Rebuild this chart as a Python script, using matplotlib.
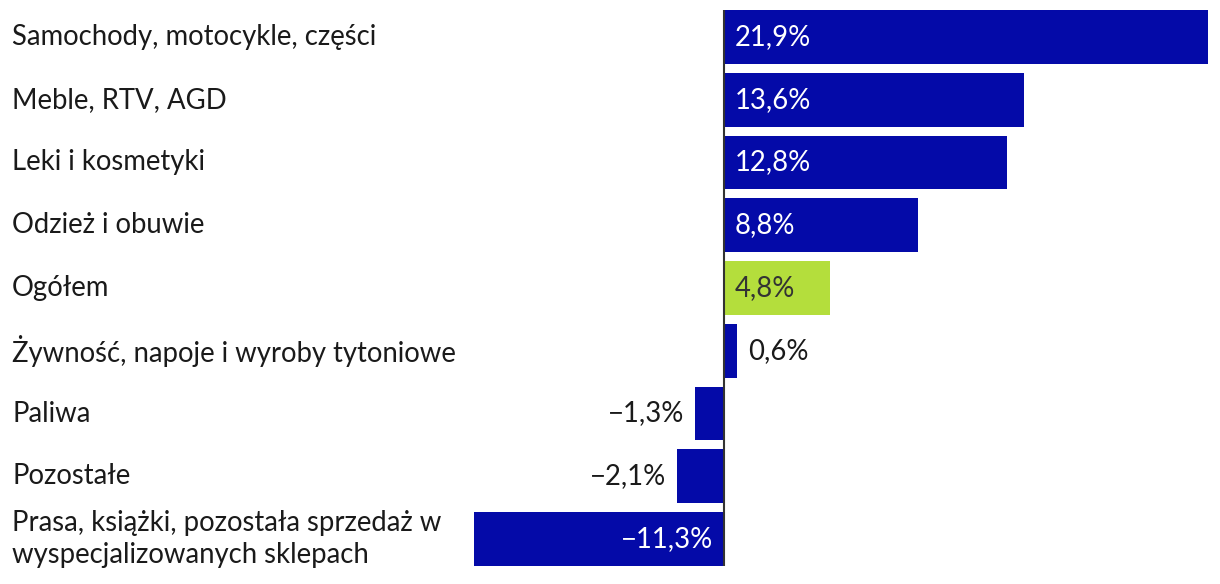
import matplotlib.pyplot as plt
import matplotlib.transforms as mtransforms

# Data
categories = ['Samochody, motocykle, części', 'Meble, RTV, AGD', 'Leki i kosmetyki',
              'Odzież i obuwie', 'Ogółem', 'Żywność, napoje i wyroby tytoniowe',
              'Paliwa', 'Pozostałe',
              'Prasa, książki, pozostała sprzedaż w\nwyspecjalizowanych sklepach']
values = [21.9, 13.6, 12.8, 8.8, 4.8, 0.6, -1.3, -2.1, -11.3]
highlight = 'Ogółem'

blue = '#040AA8'
green = '#B4DE3C'

plt.rcParams['font.family'] = ['Lato', 'DejaVu Sans']

fig = plt.figure(figsize=(12.2, 5.84), dpi=100)
ax = fig.add_axes([474 / 1220, 18 / 584, (1208 - 474) / 1220, 556 / 584])

pos = list(range(len(categories)))
colors = [green if c == highlight else blue for c in categories]
ax.barh(pos, values, height=0.86, color=colors)

ax.set_xlim(min(values), max(values))
ax.set_ylim(len(categories) - 1 + 0.43, -0.43)
ax.axvline(0, color='#333333', lw=1.5, zorder=3)
ax.axis('off')

fs = 19.8

# category labels at the left edge of the figure
trans = mtransforms.blended_transform_factory(fig.transFigure, ax.transData)
for p, c in zip(pos, categories):
    ax.text(12 / 1220, p, c, transform=trans, ha='left', va='center',
            fontsize=fs, color='#1a1a1a', linespacing=1.25)

# value labels
for p, v, c in zip(pos, values, categories):
    txt = f'{v:.1f}%'.replace('.', ',').replace('-', '\u2212')
    if v >= 3:
        col = '#333333' if c == highlight else 'white'
        ax.annotate(txt, (0, p), xytext=(8, 0), textcoords='offset points',
                    ha='left', va='center', fontsize=fs, color=col)
    elif v >= 0:
        ax.annotate(txt, (v, p), xytext=(8, 0), textcoords='offset points',
                    ha='left', va='center', fontsize=fs, color='#1a1a1a')
    elif v > -5:
        ax.annotate(txt, (v, p), xytext=(-8, 0), textcoords='offset points',
                    ha='right', va='center', fontsize=fs, color='#1a1a1a')
    else:
        ax.annotate(txt, (0, p), xytext=(-8, 0), textcoords='offset points',
                    ha='right', va='center', fontsize=fs, color='white')

plt.savefig('out.png', dpi=100)
